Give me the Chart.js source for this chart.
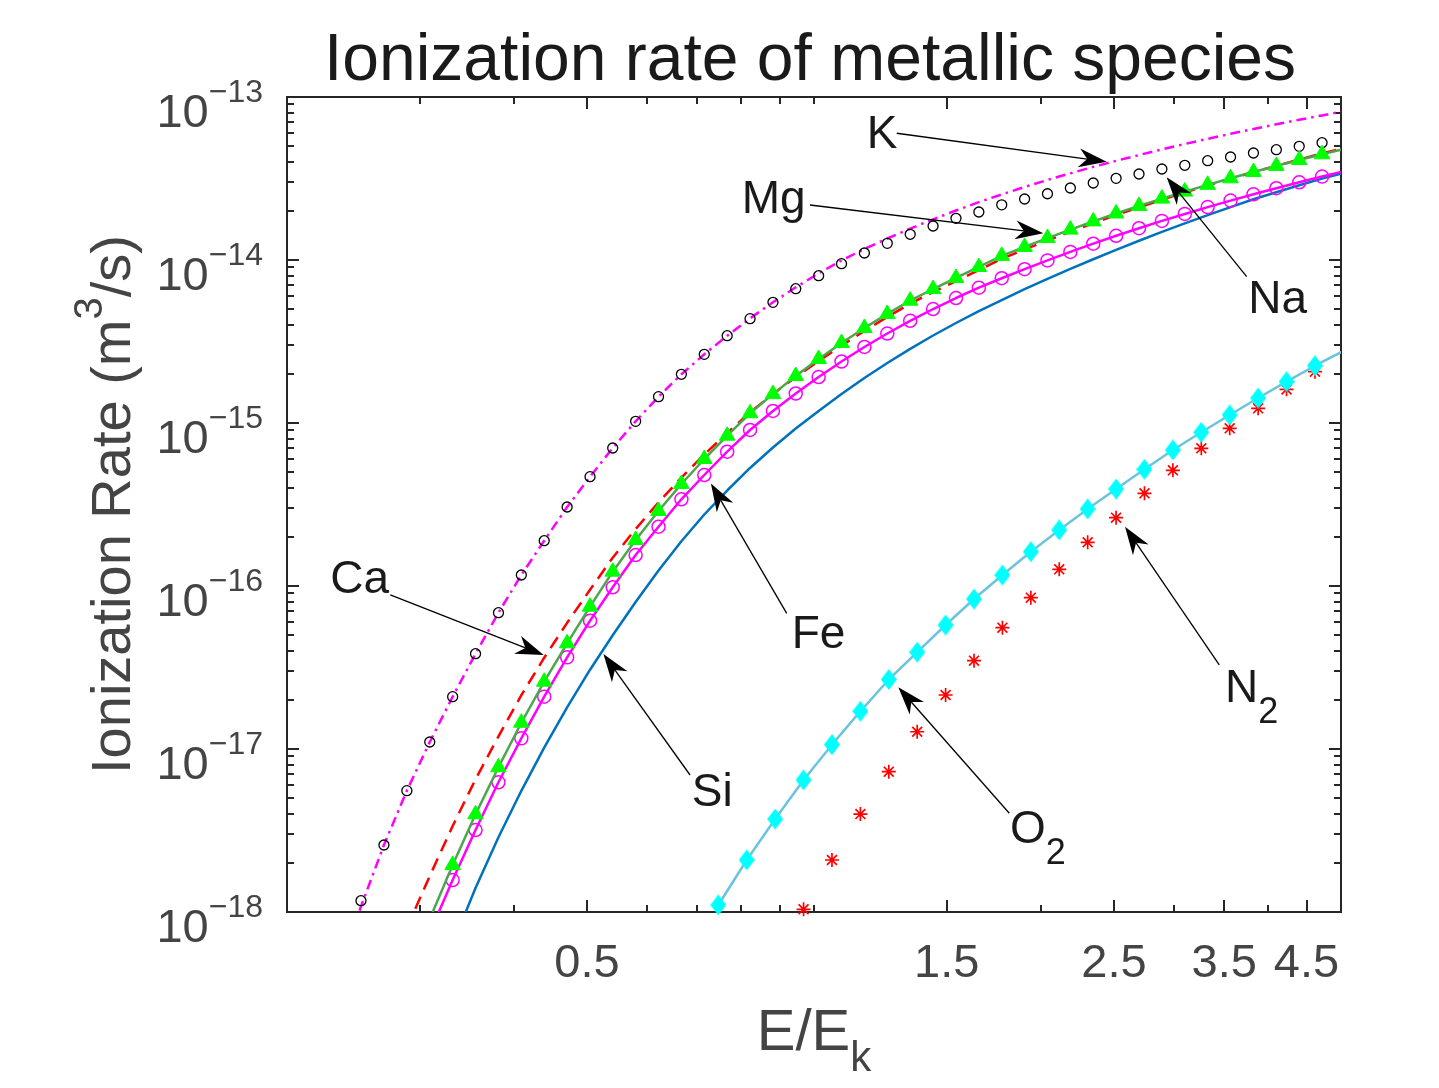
<!DOCTYPE html>
<html>
<head>
<meta charset="utf-8">
<title>Ionization rate of metallic species</title>
<script src="https://cdn.jsdelivr.net/npm/chart.js@4.4.1/dist/chart.umd.min.js"></script>
<style>
  html, body { margin: 0; padding: 0; background: #fff; }
  #wrap { width: 1439px; height: 1088px; }
</style>
</head>
<body>
<div id="wrap"><canvas id="rateChart" width="1439" height="1088"></canvas></div>
<script>
// E/E_k grid used by the metal curves (markers sit on these points)
const energyMetals = [0.2338, 0.2507, 0.2689, 0.2884, 0.3093, 0.3317, 0.3557, 0.3815, 0.4091, 0.4387,
  0.4705, 0.5046, 0.5408, 0.5800, 0.6220, 0.6670, 0.7153, 0.7671, 0.8226, 0.8822,
  0.9458, 1.0143, 1.0877, 1.1664, 1.2509, 1.3415, 1.4386, 1.5428, 1.6544, 1.7741,
  1.9025, 2.0402, 2.1878, 2.3462, 2.5160, 2.6982, 2.8935, 3.1030, 3.3277, 3.5685,
  3.8270, 4.1040, 4.4010, 4.7190, 5.0600];

// ionization rates, m^3/s
const rateK = [4.135e-19, 1.081e-18, 2.576e-18, 5.549e-18, 1.104e-17, 2.094e-17, 3.842e-17, 6.857e-17, 1.168e-16, 1.896e-16,
  3.052e-16, 4.684e-16, 7.024e-16, 1.024e-15, 1.450e-15, 1.990e-15, 2.639e-15, 3.432e-15, 4.382e-15, 5.500e-15,
  6.799e-15, 8.285e-15, 9.929e-15, 1.168e-14, 1.355e-14, 1.558e-14, 1.777e-14, 2.012e-14, 2.263e-14, 2.526e-14,
  2.805e-14, 3.097e-14, 3.402e-14, 3.725e-14, 4.061e-14, 4.405e-14, 4.771e-14, 5.148e-14, 5.540e-14, 5.946e-14,
  6.364e-14, 6.800e-14, 7.245e-14, 7.711e-14, 8.192e-14];
const rateNa = [null, 1.173e-18, 2.576e-18, 5.549e-18, 1.104e-17, 2.094e-17, 3.842e-17, 6.857e-17, 1.168e-16, 1.896e-16,
  3.052e-16, 4.684e-16, 7.024e-16, 1.024e-15, 1.450e-15, 1.990e-15, 2.639e-15, 3.432e-15, 4.364e-15, 5.500e-15,
  6.666e-15, 8.010e-15, 9.490e-15, 1.104e-14, 1.266e-14, 1.438e-14, 1.616e-14, 1.802e-14, 1.970e-14, 2.181e-14,
  2.367e-14, 2.550e-14, 2.765e-14, 2.968e-14, 3.171e-14, 3.369e-14, 3.617e-14, 3.811e-14, 4.066e-14, 4.284e-14,
  4.532e-14, 4.749e-14, 4.982e-14, 5.242e-14, null];
const rateCa = [null, null, null, 7.98e-19, 1.663e-18, 3.369e-18, 6.520e-18, 1.196e-17, 2.138e-17, 3.631e-17,
  5.945e-17, 9.490e-17, 1.491e-16, 2.237e-16, 3.253e-16, 4.630e-16, 6.408e-16, 8.660e-16, 1.163e-15, 1.504e-15,
  1.915e-15, 2.401e-15, 2.988e-15, 3.667e-15, 4.477e-15, 5.396e-15, 6.363e-15, 7.430e-15, 8.682e-15, 1.016e-14,
  1.161e-14, 1.315e-14, 1.493e-14, 1.677e-14, 1.888e-14, 2.102e-14, 2.347e-14, 2.592e-14, 2.872e-14, 3.149e-14,
  3.466e-14, 3.778e-14, 4.136e-14, 4.513e-14, 4.880e-14];
const rateMg = [null, null, null, null, 9.06e-19, 1.942e-18, 3.973e-18, 7.720e-18, 1.449e-17, 2.587e-17,
  4.451e-17, 7.464e-17, 1.224e-16, 1.915e-16, 2.884e-16, 4.224e-16, 6.013e-16, 8.360e-16, 1.147e-15, 1.504e-15,
  1.942e-15, 2.470e-15, 3.095e-15, 3.826e-15, 4.670e-15, 5.629e-15, 6.638e-15, 7.755e-15, 9.060e-15, 1.060e-14,
  1.203e-14, 1.363e-14, 1.536e-14, 1.725e-14, 1.929e-14, 2.147e-14, 2.380e-14, 2.628e-14, 2.892e-14, 3.171e-14,
  3.466e-14, 3.778e-14, 4.107e-14, 4.449e-14, 4.810e-14];
const rateFe = [null, null, null, null, 7.43e-19, 1.571e-18, 3.184e-18, 6.248e-18, 1.163e-17, 2.094e-17,
  3.651e-17, 6.124e-17, 9.818e-17, 1.549e-16, 2.311e-16, 3.403e-16, 4.797e-16, 6.667e-16, 9.060e-16, 1.185e-15,
  1.517e-15, 1.915e-15, 2.384e-15, 2.926e-15, 3.540e-15, 4.236e-15, 5.004e-15, 5.846e-15, 6.761e-15, 7.730e-15,
  8.780e-15, 9.940e-15, 1.121e-14, 1.259e-14, 1.408e-14, 1.567e-14, 1.737e-14, 1.917e-14, 2.111e-14, 2.314e-14,
  2.529e-14, 2.757e-14, 2.998e-14, 3.249e-14, 3.511e-14];
const rateSi = [null, null, null, null, null, 6.36e-19, 1.403e-18, 2.872e-18, 5.540e-18, 1.019e-17,
  1.802e-17, 3.065e-17, 4.983e-17, 7.976e-17, 1.245e-16, 1.880e-16, 2.746e-16, 3.853e-16, 5.297e-16, 7.070e-16,
  9.250e-16, 1.185e-15, 1.506e-15, 1.888e-15, 2.334e-15, 2.851e-15, 3.442e-15, 4.107e-15, 4.850e-15, 5.669e-15,
  6.620e-15, 7.656e-15, 8.820e-15, 1.011e-14, 1.155e-14, 1.313e-14, 1.487e-14, 1.677e-14, 1.886e-14, 2.111e-14,
  2.357e-14, 2.606e-14, 2.872e-14, 3.158e-14, 3.437e-14];

// E/E_k grid of the two gases
const energyGas = [0.7466, 0.8143, 0.8882, 0.9686, 1.0564, 1.1522, 1.2566, 1.3705, 1.4947, 1.6302,
  1.7779, 1.9391, 2.1148, 2.3066, 2.5156, 2.7436, 2.9923, 3.2636, 3.5594, 3.8821,
  4.2340, 4.6178, 5.0364];
const rateO2 = [1.104e-18, 2.085e-18, 3.720e-18, 6.454e-18, 1.063e-17, 1.703e-17, 2.669e-17, 3.924e-17, 5.762e-17, 8.320e-17,
  1.168e-16, 1.623e-16, 2.206e-16, 2.968e-16, 3.936e-16, 5.200e-16, 6.830e-16, 8.770e-16, 1.120e-15, 1.423e-15,
  1.792e-15, 2.246e-15, 2.765e-15];
const rateN2 = [null, null, null, 1.039e-18, 2.085e-18, 3.990e-18, 7.256e-18, 1.276e-17, 2.144e-17, 3.480e-17,
  5.549e-17, 8.477e-17, 1.266e-16, 1.854e-16, 2.624e-16, 3.704e-16, 5.126e-16, 6.995e-16, 9.280e-16, 1.231e-15,
  1.609e-15, 2.064e-15, null];

const xTickValues = [0.5, 1.5, 2.5, 3.5, 4.5];
const yTickValues = [1e-18, 1e-17, 1e-16, 1e-15, 1e-14, 1e-13];

const X_MIN = 0.2, X_MAX = 5, Y_MIN = 1e-18, Y_MAX = 1e-13;
const FONT = '"Liberation Sans", Helvetica, Arial, sans-serif';
const AXIS_COLOR = '#262626';
const LABEL_COLOR = '#444444';

// text callouts with arrows, in fractions of the axes box (x from left, y from top)
const callouts = [
  { text: 'K',  sub: '',  at: [0.550, 0.0629], from: [0.5785, 0.0445], to: [0.7777, 0.0794] },
  { text: 'Mg', sub: '',  at: [0.4314, 0.1427], from: [0.4962, 0.1325], to: [0.7176, 0.1672] },
  { text: 'Na', sub: '',  at: [0.9121, 0.2647], from: [0.9105, 0.2205], to: [0.8346, 0.0985] },
  { text: 'Ca', sub: '',  at: [0.0411, 0.6080], from: [0.0980, 0.6110], to: [0.2435, 0.6847] },
  { text: 'Fe', sub: '',  at: [0.4788, 0.6761], from: [0.4741, 0.6335], to: [0.4022, 0.4741] },
  { text: 'Si', sub: '',  at: [0.3840, 0.8699], from: [0.3824, 0.8319], to: [0.3002, 0.6834] },
  { text: 'O',  sub: '2', at: [0.6860, 0.9153], from: [0.6853, 0.8789], to: [0.5800, 0.7243] },
  { text: 'N',  sub: '2', at: [0.8899, 0.7420], from: [0.8845, 0.6969], to: [0.7951, 0.5272] }
];

function pairs(xs, ys) {
  const out = [];
  xs.forEach((x, i) => {
    if (ys[i] != null) out.push({ x: x, y: ys[i] });
  });
  return out;
}

// markers outside the axes limits are not shown (lines still run to the edge)
function markerSize(r) {
  return ctx => {
    const p = ctx.raw;
    if (!p || p.x < X_MIN || p.x > X_MAX || p.y < Y_MIN || p.y > Y_MAX) return 0;
    return r;
  };
}

// MATLAB style diamond is a bit taller than wide
function makeDiamond(w, h, color) {
  const c = document.createElement('canvas');
  c.width = w;
  c.height = h;
  const g = c.getContext('2d');
  g.fillStyle = color;
  g.beginPath();
  g.moveTo(w / 2, 0);
  g.lineTo(w, h / 2);
  g.lineTo(w / 2, h);
  g.lineTo(0, h / 2);
  g.closePath();
  g.fill();
  return c;
}

function drawArrow(ctx, sx, sy, tx, ty) {
  const dx = tx - sx, dy = ty - sy;
  const len = Math.hypot(dx, dy);
  const ux = dx / len, uy = dy / len;
  const nx = -uy, ny = ux;
  const L = 28, W = 9.5, notch = 0.7 * L;
  ctx.beginPath();
  ctx.moveTo(sx, sy);
  ctx.lineTo(tx - ux * notch, ty - uy * notch);
  ctx.stroke();
  ctx.beginPath();
  ctx.moveTo(tx, ty);
  ctx.lineTo(tx - ux * L + nx * W, ty - uy * L + ny * W);
  ctx.lineTo(tx - ux * notch, ty - uy * notch);
  ctx.lineTo(tx - ux * L - nx * W, ty - uy * L - ny * W);
  ctx.closePath();
  ctx.fill();
}

const axesDecor = {
  id: 'axesDecor',
  beforeDatasetsDraw(chart) {
    const { ctx, chartArea: a, scales } = chart;
    const xs = scales.x, ys = scales.y;
    ctx.save();
    ctx.strokeStyle = AXIS_COLOR;
    ctx.lineWidth = 2;
    ctx.beginPath();
    const tickX = (v, len) => {
      const px = Math.round(xs.getPixelForValue(v));
      ctx.moveTo(px, a.bottom); ctx.lineTo(px, a.bottom - len);
      ctx.moveTo(px, a.top); ctx.lineTo(px, a.top + len);
    };
    const tickY = (v, len) => {
      const py = Math.round(ys.getPixelForValue(v));
      ctx.moveTo(a.left, py); ctx.lineTo(a.left + len, py);
      ctx.moveTo(a.right, py); ctx.lineTo(a.right - len, py);
    };
    // minor ticks at 1..9 x 10^n
    for (const dec of [0.1, 1]) {
      for (let m = 1; m <= 9; m++) {
        const v = m * dec;
        if (v > X_MIN && v < X_MAX && !xTickValues.includes(v)) tickX(v, 7);
      }
    }
    xTickValues.forEach(v => tickX(v, 12));
    for (let e = -18; e < -13; e++) {
      for (let m = 2; m <= 9; m++) tickY(m * Math.pow(10, e), 7);
    }
    yTickValues.forEach(v => tickY(v, 12));
    ctx.stroke();
    ctx.strokeRect(a.left, a.top, a.right - a.left, a.bottom - a.top);
    ctx.restore();
  },
  afterDraw(chart) {
    const { ctx, chartArea: a, scales } = chart;
    const xs = scales.x, ys = scales.y;
    ctx.save();
    ctx.textBaseline = 'alphabetic';

    // x tick labels
    ctx.fillStyle = LABEL_COLOR;
    ctx.font = '47px ' + FONT;
    ctx.textAlign = 'center';
    xTickValues.forEach(v => {
      ctx.fillText(String(v), xs.getPixelForValue(v), a.bottom + 65);
    });

    // y tick labels: 10^n
    ctx.textAlign = 'left';
    yTickValues.forEach(v => {
      const py = ys.getPixelForValue(v);
      const exp = '\u2212' + Math.abs(Math.round(Math.log10(v)));
      ctx.font = '32px ' + FONT;
      const wExp = ctx.measureText(exp).width;
      ctx.font = '47px ' + FONT;
      const wBase = ctx.measureText('10').width;
      const right = a.left - 24;
      ctx.fillText('10', right - wExp - wBase, py + 30);
      ctx.font = '32px ' + FONT;
      ctx.fillText(exp, right - wExp, py + 5);
    });

    // x axis title E/E_k
    ctx.font = '58px ' + FONT;
    const wMain = ctx.measureText('E/E').width;
    ctx.font = '42px ' + FONT;
    const wSub = ctx.measureText('k').width;
    let x0 = (a.left + a.right) / 2 - (wMain + wSub) / 2;
    ctx.font = '58px ' + FONT;
    ctx.fillText('E/E', x0, 1050);
    ctx.font = '42px ' + FONT;
    ctx.fillText('k', x0 + wMain, 1071);

    // y axis title
    ctx.save();
    ctx.translate(130, (a.top + a.bottom) / 2);
    ctx.rotate(-Math.PI / 2);
    const partA = 'Ionization Rate (m', partSup = '3', partB = '/s)';
    ctx.font = '56px ' + FONT;
    const wA = ctx.measureText(partA).width, wB = ctx.measureText(partB).width;
    ctx.font = '40px ' + FONT;
    const wS = ctx.measureText(partSup).width;
    let tx = -(wA + wS + wB) / 2;
    ctx.font = '56px ' + FONT;
    ctx.fillText(partA, tx, 0);
    ctx.font = '40px ' + FONT;
    ctx.fillText(partSup, tx + wA, -28);
    ctx.font = '56px ' + FONT;
    ctx.fillText(partB, tx + wA + wS, 0);
    ctx.restore();

    // title
    ctx.fillStyle = '#1a1a1a';
    ctx.font = '66px ' + FONT;
    ctx.textAlign = 'center';
    ctx.fillText('Ionization rate of metallic species', (a.left + a.right) / 2 - 4, 80);

    // callouts
    const fx = f => a.left + f * (a.right - a.left);
    const fy = f => a.top + f * (a.bottom - a.top);
    ctx.textAlign = 'left';
    ctx.strokeStyle = '#000';
    ctx.fillStyle = '#000';
    ctx.lineWidth = 1.3;
    callouts.forEach(c => {
      drawArrow(ctx, fx(c.from[0]), fy(c.from[1]), fx(c.to[0]), fy(c.to[1]));
    });
    ctx.fillStyle = '#1a1a1a';
    callouts.forEach(c => {
      const lx = fx(c.at[0]), ly = fy(c.at[1]);
      ctx.font = '46px ' + FONT;
      ctx.fillText(c.text, lx, ly);
      if (c.sub) {
        const w = ctx.measureText(c.text).width;
        ctx.font = '36px ' + FONT;
        ctx.fillText(c.sub, lx + w, ly + 21);
      }
    });
    ctx.restore();
  }
};

const diamond = makeDiamond(16, 21, '#00ffff');

new Chart(document.getElementById('rateChart'), {
  type: 'line',
  data: {
    datasets: [
      {
        label: 'O2', data: pairs(energyGas, rateO2),
        borderColor: '#6cc4dc', borderWidth: 2.5,
        pointStyle: diamond, pointRadius: markerSize(9),
        clip: { left: 0, top: 0, right: 0, bottom: 12 }
      },
      {
        label: 'N2', data: pairs(energyGas, rateN2), showLine: false,
        pointStyle: 'star', pointRadius: markerSize(7),
        pointBorderColor: '#ff0000', pointBorderWidth: 1.7, clip: false
      },
      {
        label: 'Mg', data: pairs(energyMetals, rateMg),
        borderColor: '#4ca64c', borderWidth: 2.5,
        pointStyle: 'triangle', pointRadius: markerSize(9),
        pointBackgroundColor: '#00ff00', pointBorderColor: '#00ff00', pointBorderWidth: 1
      },
      {
        label: 'Ca', data: pairs(energyMetals, rateCa),
        borderColor: '#ff0000', borderWidth: 2.5, borderDash: [13, 8], pointRadius: 0
      },
      {
        label: 'Fe', data: pairs(energyMetals, rateFe),
        borderColor: '#ff00ff', borderWidth: 2.5,
        pointStyle: 'circle', pointRadius: markerSize(6.5),
        pointBackgroundColor: 'rgba(0,0,0,0)', pointBorderColor: '#ff00ff', pointBorderWidth: 1.5
      },
      {
        label: 'Na', data: pairs(energyMetals, rateNa), showLine: false,
        pointStyle: 'circle', pointRadius: markerSize(5),
        pointBackgroundColor: 'rgba(0,0,0,0)', pointBorderColor: '#000000', pointBorderWidth: 1.3, clip: false
      },
      {
        label: 'K', data: pairs(energyMetals, rateK),
        borderColor: '#ff00ff', borderWidth: 2.5, borderDash: [10, 5, 2.5, 5], pointRadius: 0
      },
      {
        label: 'Si', data: pairs(energyMetals, rateSi),
        borderColor: '#0072bd', borderWidth: 2.5, pointRadius: 0
      }
    ]
  },
  options: {
    responsive: false,
    devicePixelRatio: 1,
    animation: false,
    events: [],
    layout: { padding: { left: 287, right: 98, top: 97, bottom: 176 } },
    scales: {
      x: { type: 'logarithmic', min: X_MIN, max: X_MAX, display: false },
      y: { type: 'logarithmic', min: Y_MIN, max: Y_MAX, display: false }
    },
    elements: {
      line: { tension: 0, borderCapStyle: 'butt', borderJoinStyle: 'round', fill: false },
      point: { hoverRadius: 0 }
    },
    plugins: {
      legend: { display: false },
      tooltip: { enabled: false },
      title: { display: false }
    }
  },
  plugins: [axesDecor]
});
</script>
</body>
</html>
